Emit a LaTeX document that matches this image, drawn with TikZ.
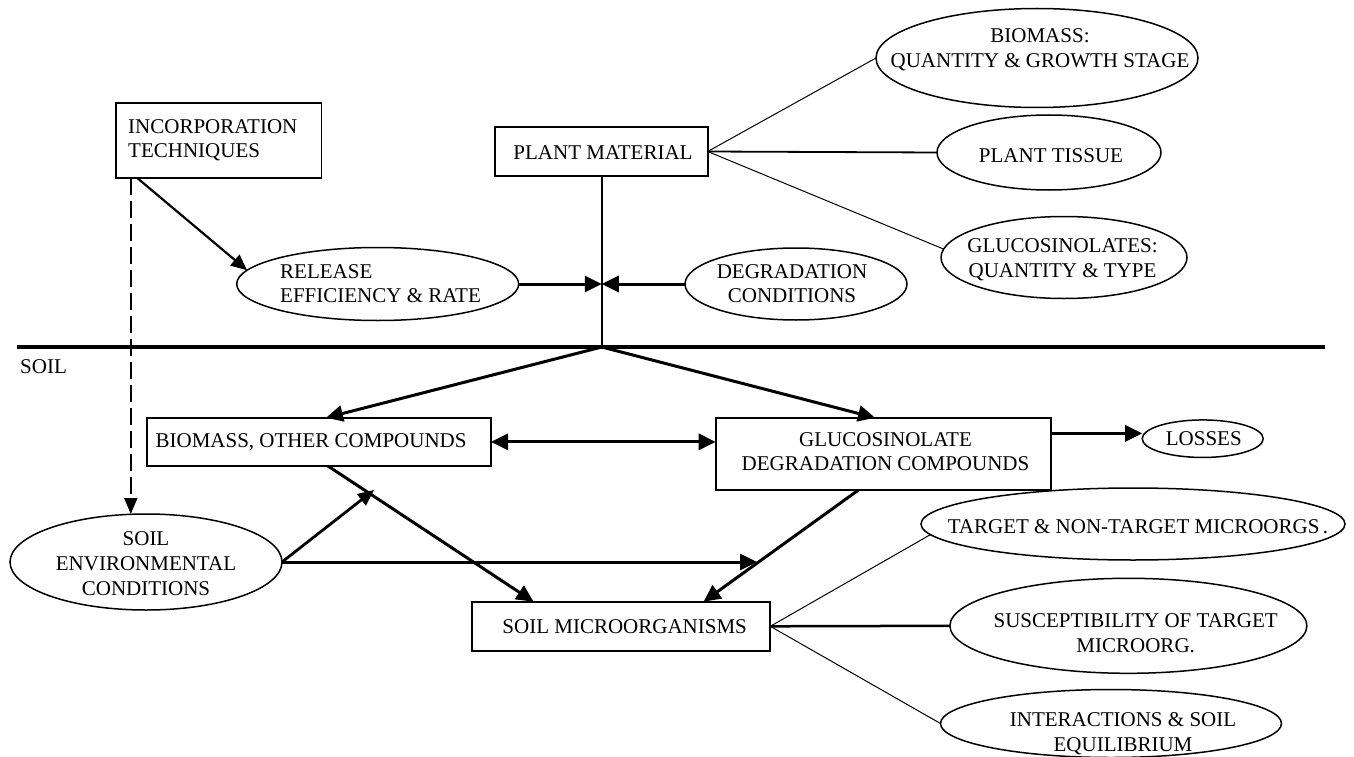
\documentclass[tikz,border=0pt]{standalone}
\usepackage{fontspec}
\setmainfont{Liberation Serif}
\usetikzlibrary{arrows.meta,shapes.geometric}
\begin{document}
\begin{tikzpicture}[x=1pt,y=-1pt,
  box/.style={draw, line width=1.8pt, rectangle, inner sep=0pt, outer sep=0pt},
  oval/.style={draw, line width=1.5pt, ellipse, inner sep=0pt, outer sep=0pt},
  txt/.style={inner sep=0pt, font=\fontsize{21}{24.6}\selectfont, anchor=north, align=center},
  txtl/.style={txt, anchor=north west, align=left},
  fine/.style={line width=1pt},
  arr/.style={line width=3pt, -{Triangle[length=17pt,width=16pt]}},
  arrboth/.style={line width=3pt, {Triangle[length=17pt,width=16pt]}-{Triangle[length=17pt,width=16pt]}},
  arrmid/.style={line width=2.2pt, -{Triangle[length=16pt,width=14pt]}},
  dashar/.style={line width=2pt, dash pattern=on 17pt off 6pt, -{Triangle[length=16pt,width=13pt]}}
]
\useasboundingbox (0,0) rectangle (1354,757);

% boxes
\node[box, minimum width=205.8pt, minimum height=75pt] (incorp) at (218.5,140.8) {};
\node[box, minimum width=213pt, minimum height=49pt] (plant) at (601.2,151.5) {};
\node[box, minimum width=344pt, minimum height=48.3pt] (bbox) at (319,441.9) {};
\node[box, minimum width=335pt, minimum height=72.3pt] (gbox) at (883.2,453.9) {};
\node[box, minimum width=298pt, minimum height=49.3pt] (micro) at (621.3,626.3) {};

% ellipses
\node[oval, minimum width=282pt, minimum height=73pt] (release) at (377.7,284) {};
\node[oval, minimum width=222pt, minimum height=72pt] (deg) at (796,284) {};
\node[oval, minimum width=322pt, minimum height=99pt] (bioE) at (1037,58) {};
\node[oval, minimum width=224pt, minimum height=75pt] (tissue) at (1049,152.5) {};
\node[oval, minimum width=246pt, minimum height=82pt] (gluE) at (1064,257.5) {};
\node[oval, minimum width=272pt, minimum height=96pt] (soilenv) at (146,562) {};
\node[oval, minimum width=121pt, minimum height=37.5pt] (losses) at (1202.7,438.7) {};
\node[oval, minimum width=424pt, minimum height=72pt] (target) at (1133,524) {};
\node[oval, minimum width=357pt, minimum height=95pt] (susc) at (1128.4,625.8) {};
\node[oval, minimum width=341pt, minimum height=68pt] (inter) at (1111,723.5) {};

% texts
\node[txtl] (incorpT) at (128,119.1) {INCORPORATION\\TECHNIQUES};
\node[txt] (plantT) at (603,145.1) {PLANT MATERIAL};
\node[txtl] (releaseT) at (280,264.1) {RELEASE\\EFFICIENCY \& RATE};
\node[txt] (degT) at (792,264.1) {DEGRADATION\\CONDITIONS};
\node[txt] (bioT) at (1040,28.8) {BIOMASS:\\QUANTITY \& GROWTH STAGE};
\node[txt] (tissueT) at (1051,148.1) {PLANT TISSUE};
\node[txt] (gluT) at (1062.5,238.4) {GLUCOSINOLATES:\\QUANTITY \& TYPE};
\node[txtl] (soilT) at (20,359.4) {SOIL};
\node[txtl] (bboxT) at (155.4,433.8) {BIOMASS, OTHER COMPOUNDS};
\node[txt] (gboxT) at (885.5,432.1) {GLUCOSINOLATE\\DEGRADATION COMPOUNDS};
\node[txt] (lossT) at (1203.8,431.8) {LOSSES};
\node[txt] (envT) at (146,531.8) {SOIL\\ENVIRONMENTAL\\CONDITIONS};
\node[txt] (microT) at (624.7,619.4) {SOIL MICROORGANISMS};
\node[txt] (targT) at (1138,519.4) {TARGET \& NON-TARGET MICROORGS\thinspace.};
\node[txt] (suscT) at (1135.7,613.4) {SUSCEPTIBILITY OF TARGET\\MICROORG.};
\node[txt] (interT) at (1123,712.3) {INTERACTIONS \& SOIL\\EQUILIBRIUM};

% helper points
\coordinate (meet) at (601.8,284);
\coordinate (hub) at (601.8,347);
\coordinate (soilL) at (17,347);
\coordinate (soilR) at (1325,347);
\coordinate (m1) at (374,490);
\coordinate (m2) at (757,562);

% connectors
\draw[line width=3.3pt] (soilL) -- (soilR);
\draw[line width=1.6pt] (meet |- plant.south) -- (hub);
\draw[arrmid] ([xshift=22pt]incorp.south west) -- (release.174);
\draw[dashar] ([xshift=15.2pt]incorp.south west) -- ([xshift=15.2pt]incorp.south west |- soilenv.north);
\draw[arr] (release.east |- meet) -- (meet);
\draw[arr] (deg.west) -- (meet);
\draw[fine] (plant.east) -- (bioE.west);
\draw[line width=1.8pt] (plant.east) -- (tissue.west);
\draw[fine] (plant.east) -- (gluE.176);
\draw[arr] (hub) -- ([xshift=179pt]bbox.north west);
\draw[arr] (hub) -- ([xshift=159.3pt]gbox.north west);
\draw[arrboth] (bbox.east) -- (bbox.east -| gbox.west);
\draw[arr] ([yshift=-15.6pt]gbox.north east) -- ([yshift=-15.6pt]gbox.north east -| losses.west);
\draw[arr] ([xshift=181pt]bbox.south west) -- ([xshift=61.2pt]micro.north west);
\draw[arrmid, line width=2.8pt] (soilenv.east) -- (m1);
\draw[arr] (soilenv.east) -- (m2);
\draw[arr] ([xshift=142.7pt]gbox.south west) -- ([xshift=231.3pt]micro.north west);
\draw[fine] (micro.east) -- (target.183);
\draw[line width=2.5pt] (micro.east) -- (susc.west);
\draw[fine] (micro.east) -- (inter.west);
\end{tikzpicture}
\end{document}
